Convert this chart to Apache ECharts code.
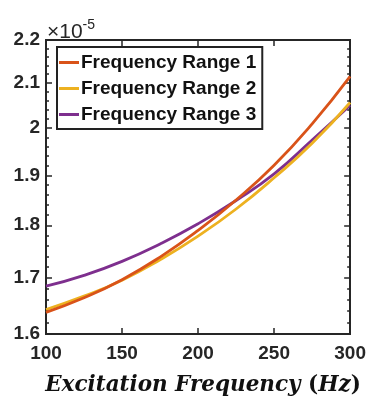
<!DOCTYPE html>
<html>
<head>
<meta charset="utf-8">
<script src="https://cdn.jsdelivr.net/npm/echarts@6/dist/echarts.min.js"></script>
<style>
html,body{margin:0;padding:0;background:#fff;}
#chart{width:369px;height:401px;}
</style>
</head>
<body>
<div id="chart"></div>
<script>
// Data (values in units of 1e-5)
var freqs = [100, 125, 150, 175, 200, 225, 250, 275, 300];
var range1 = [1.638, 1.664, 1.697, 1.739, 1.790, 1.850, 1.921, 2.009, 2.115];
var range2 = [1.643, 1.667, 1.696, 1.734, 1.779, 1.832, 1.895, 1.967, 2.056];
var range3 = [1.685, 1.705, 1.731, 1.764, 1.803, 1.849, 1.903, 1.974, 2.050];
var seriesNames = ['Frequency Range 1', 'Frequency Range 2', 'Frequency Range 3'];
var colors = ['#D95319', '#EDB120', '#7E2F8E'];
var yMajorTicks = [1.6, 1.7, 1.8, 1.9, 2.0, 2.1, 2.2];
var yMinorTicks = [1.62, 1.64, 1.66, 1.68, 1.72, 1.74, 1.76, 1.78, 1.82, 1.84, 1.86, 1.88,
                   1.92, 1.94, 1.96, 1.98, 2.02, 2.04, 2.06, 2.08, 2.12, 2.14, 2.16, 2.18];
var xMin = 100, xMax = 300, xStep = 50;
var yMin = 1.6, yMax = 2.2;

function pairs(xs, ys) { return xs.map(function (x, i) { return [x, ys[i]]; }); }

var chart = echarts.init(document.getElementById('chart'), null, {renderer: 'canvas'});
var axisColor = '#262626';
var labelFont = {fontFamily: 'Liberation Sans, Arial, sans-serif', fontWeight: 'bold', fontSize: 19, color: '#262626'};

function yAxisDef(pos, ticks, len, showLabel) {
  return {
    type: 'log', logBase: 10, min: yMin, max: yMax, position: pos,
    axisLine: {show: true, lineStyle: {color: axisColor, width: 2}},
    axisTick: {show: true, inside: true, length: len, customValues: ticks, lineStyle: {color: axisColor, width: 1.5}},
    axisLabel: Object.assign({show: showLabel, customValues: ticks, margin: 6,
      formatter: function (v) { return String(+v.toFixed(1)); }}, labelFont),
    splitLine: {show: false}, minorTick: {show: false}
  };
}

var option = {
  animation: false,
  backgroundColor: '#fff',
  grid: {left: 46, right: 18, top: 40, bottom: 60, containLabel: false},
  xAxis: [{
    type: 'value', min: xMin, max: xMax, interval: xStep, position: 'bottom',
    axisLine: {show: true, onZero: false, lineStyle: {color: axisColor, width: 2}},
    axisTick: {show: true, inside: true, length: 6, lineStyle: {color: axisColor, width: 1.5}},
    axisLabel: Object.assign({margin: 10}, labelFont),
    splitLine: {show: false},
    name: '{i|Excitation Frequency }{u|(}{i|Hz}{u|)}',
    nameLocation: 'middle', nameGap: 40,
    nameTextStyle: {
      padding: [0, 0, 0, 10],
      rich: {
        i: {fontFamily: 'DejaVu Serif', fontStyle: 'italic', fontWeight: 'bold', fontSize: 21.5, color: '#111'},
        u: {fontFamily: 'DejaVu Serif', fontWeight: 'bold', fontSize: 21.5, color: '#111'}
      }
    }
  }, {
    type: 'value', min: xMin, max: xMax, interval: xStep, position: 'top',
    axisLine: {show: true, onZero: false, lineStyle: {color: axisColor, width: 2}},
    axisTick: {show: true, inside: true, length: 6, lineStyle: {color: axisColor, width: 1.5}},
    axisLabel: {show: false}, splitLine: {show: false}
  }],
  yAxis: [
    yAxisDef('left', yMajorTicks, 6, true),
    yAxisDef('right', yMajorTicks, 6, false),
    yAxisDef('left', yMinorTicks, 3, false),
    yAxisDef('right', yMinorTicks, 3, false)
  ],
  legend: {
    orient: 'vertical', left: 57, top: 47,
    itemWidth: 20, itemHeight: 3, itemGap: 7,
    padding: [6, 6, 5, 2],
    borderColor: '#222', borderWidth: 2, backgroundColor: '#fff',
    icon: 'rect',
    textStyle: {fontFamily: 'Liberation Sans, Arial, sans-serif', fontWeight: 'bold', fontSize: 19, color: '#111', padding: [0, 0, 0, -3]},
    data: seriesNames
  },
  graphic: [{
    type: 'text', left: 47, top: 18,
    style: {
      text: '{a|\u00d710}{b|-5}',
      rich: {
        a: {fontFamily: 'Liberation Sans, Arial, sans-serif', fontSize: 21, fill: '#262626', verticalAlign: 'bottom'},
        b: {fontFamily: 'Liberation Sans, Arial, sans-serif', fontSize: 14, fill: '#262626', verticalAlign: 'top', padding: [0, 0, 11, 0]}
      }
    }
  }],
  series: [range1, range2, range3].map(function (vals, i) {
    return {
      name: seriesNames[i], type: 'line', xAxisIndex: 0, yAxisIndex: 0,
      data: pairs(freqs, vals), smooth: 0.5, showSymbol: false, symbol: 'none',
      lineStyle: {color: colors[i], width: 2.8}, itemStyle: {color: colors[i]},
      z: 3 - i
    };
  })
};
chart.setOption(option);
</script>
</body>
</html>
